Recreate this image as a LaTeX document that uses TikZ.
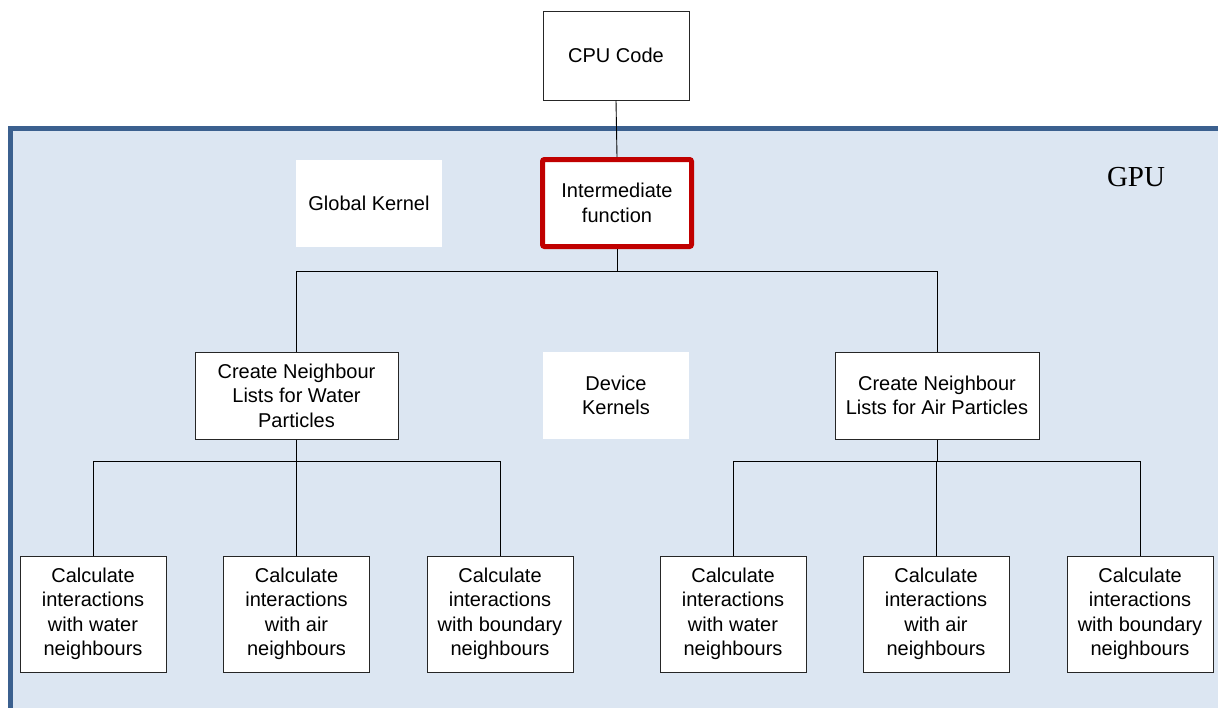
\documentclass[tikz,border=0pt]{standalone}
\usepackage{fontspec}
\setmainfont{Liberation Sans}
\newfontfamily\gpufont{Liberation Serif}
\definecolor{panelfill}{RGB}{220,230,242}
\definecolor{panelline}{RGB}{59,96,143}
\definecolor{kernelred}{RGB}{192,0,0}
\begin{document}
\begin{tikzpicture}[x=1pt,y=-1pt,
  every node/.style={font=\fontsize{20}{24.5}\selectfont, align=center, inner sep=0pt},
  box/.style={draw=black!85, line width=1pt, fill=white, minimum width=#1},
  box/.default=146pt,
  leafbox/.style={box, minimum height=116pt},
  listbox/.style={box=#1, minimum height=87pt},
  label/.style={fill=white, minimum width=146pt, minimum height=87pt},
  wire/.style={draw=black, line width=0.9pt}]
\path[use as bounding box] (0,0) rectangle (1218,707);

% GPU region
\begin{scope}
\clip (0,0) rectangle (1218,707);
\draw[panelline, fill=panelfill, line width=5pt] (10,128) rectangle (1240,730);
\end{scope}
\node[font=\gpufont\fontsize{29}{30}\selectfont] (gpu) at (1136,177) {GPU};

% top level
\node[box, minimum height=89pt] (cpu) at (616,55.5) {CPU Code};
\node[draw=kernelred, line width=5pt, rounded corners=2pt, fill=white,
      minimum width=149pt, minimum height=87pt] (inter) at (617,203) {Intermediate\\function};
\node[label] (global) at (369,203) {Global Kernel};
\node[label] (device) at (616,395.5) {Device\\Kernels};

% neighbour list kernels
\node[listbox=203pt] (water) at (296.5,395.5) {Create Neighbour\\Lists for Water\\Particles};
\node[listbox=204pt] (air) at (937,395.5) {Create Neighbour\\Lists for Air Particles};

% interaction kernels
\node[leafbox] (w1) at (93,614) {Calculate\\interactions\\with water\\neighbours};
\node[leafbox] (w2) at (296.5,614) {Calculate\\interactions\\with air\\neighbours};
\node[leafbox] (w3) at (500,614) {Calculate\\interactions\\with boundary\\neighbours};
\node[leafbox] (a1) at (733,614) {Calculate\\interactions\\with water\\neighbours};
\node[leafbox] (a2) at (936,614) {Calculate\\interactions\\with air\\neighbours};
\node[leafbox] (a3) at (1140,614) {Calculate\\interactions\\with boundary\\neighbours};

% connectors
\coordinate (split0) at ([yshift=-22pt]inter.south);
\coordinate (split1) at ([yshift=-22pt]water.south);
\coordinate (split2) at ([yshift=-22pt]air.south);
\draw[wire] (cpu.south) -- (inter.north);
\draw[wire] (inter.south) -- (split0);
\draw[wire] (split0) -| (water.north);
\draw[wire] (split0) -| (air.north);
\draw[wire] (water.south) -- (split1);
\draw[wire] (split1) -| (w1.north);
\draw[wire] (split1) -- (w2.north);
\draw[wire] (split1) -| (w3.north);
\draw[wire] (air.south) -- (split2);
\draw[wire] (split2) -| (a1.north);
\draw[wire] (split2) -| (a2.north);
\draw[wire] (split2) -| (a3.north);
\end{tikzpicture}
\end{document}
